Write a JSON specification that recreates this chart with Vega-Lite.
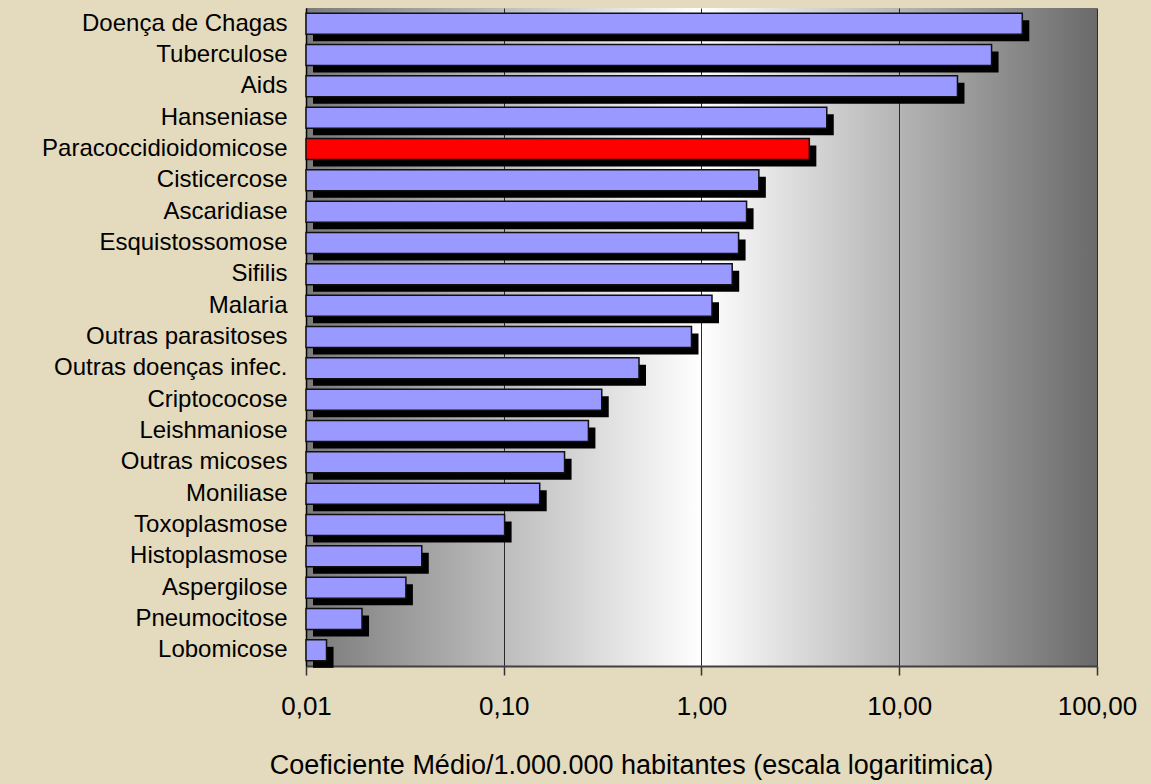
{
  "$schema": "https://vega.github.io/schema/vega-lite/v6.json",
  "width": 791,
  "height": 658,
  "autosize": "none",
  "padding": {"left": 306, "top": 8, "right": 54, "bottom": 118},
  "background": "#e4dabd",
  "config": {
    "locale": {
      "number": {"decimal": ",", "thousands": ".", "grouping": [3], "currency": ["R$", ""]}
    },
    "font": "Liberation Sans",
    "view": {
      "stroke": null,
      "fill": {
        "gradient": "linear",
        "x1": 0, "y1": 0, "x2": 1, "y2": 0,
        "stops": [
          {"offset": 0, "color": "#7a7a7a"},
          {"offset": 0.5, "color": "#ffffff"},
          {"offset": 1, "color": "#6a6a6a"}
        ]
      }
    }
  },
  "data": {
    "values": [
      {"doenca": "Doença de Chagas", "coef": 41.9, "grupo": "outro"},
      {"doenca": "Tuberculose", "coef": 29.3, "grupo": "outro"},
      {"doenca": "Aids", "coef": 19.7, "grupo": "outro"},
      {"doenca": "Hanseniase", "coef": 4.3, "grupo": "outro"},
      {"doenca": "Paracoccidioidomicose", "coef": 3.51, "grupo": "destaque"},
      {"doenca": "Cisticercose", "coef": 1.95, "grupo": "outro"},
      {"doenca": "Ascaridiase", "coef": 1.69, "grupo": "outro"},
      {"doenca": "Esquistossomose", "coef": 1.54, "grupo": "outro"},
      {"doenca": "Sifilis", "coef": 1.43, "grupo": "outro"},
      {"doenca": "Malaria", "coef": 1.13, "grupo": "outro"},
      {"doenca": "Outras parasitoses", "coef": 0.89, "grupo": "outro"},
      {"doenca": "Outras doenças infec.", "coef": 0.483, "grupo": "outro"},
      {"doenca": "Criptococose", "coef": 0.313, "grupo": "outro"},
      {"doenca": "Leishmaniose", "coef": 0.268, "grupo": "outro"},
      {"doenca": "Outras micoses", "coef": 0.203, "grupo": "outro"},
      {"doenca": "Moniliase", "coef": 0.152, "grupo": "outro"},
      {"doenca": "Toxoplasmose", "coef": 0.101, "grupo": "outro"},
      {"doenca": "Histoplasmose", "coef": 0.0385, "grupo": "outro"},
      {"doenca": "Aspergilose", "coef": 0.032, "grupo": "outro"},
      {"doenca": "Pneumocitose", "coef": 0.0192, "grupo": "outro"},
      {"doenca": "Lobomicose", "coef": 0.0127, "grupo": "outro"}
    ]
  },
  "encoding": {
    "y": {
      "field": "doenca",
      "type": "nominal",
      "sort": null,
      "scale": {"paddingInner": 0.33, "paddingOuter": 0.165},
      "axis": {
        "title": null,
        "ticks": false,
        "labelFontSize": 24,
        "labelColor": "#000",
        "labelPadding": 19,
        "labelLimit": 400,
        "domainColor": "#000",
        "domainWidth": 1.5
      }
    },
    "x": {
      "field": "coef",
      "type": "quantitative",
      "scale": {"type": "log", "domain": [0.01, 100], "nice": false},
      "axis": {
        "title": "Coeficiente Médio/1.000.000 habitantes (escala logaritimica)",
        "values": [0.01, 0.1, 1, 10, 100],
        "format": ".2f",
        "grid": true,
        "gridColor": "#2a2a2a",
        "gridWidth": 1,
        "domainColor": "#404040",
        "domainWidth": 2,
        "tickColor": "#333",
        "tickSize": 9,
        "tickWidth": 1.5,
        "labelFontSize": 26,
        "labelColor": "#000",
        "labelBaseline": "alphabetic",
        "labelPadding": 39,
        "labelFlush": false,
        "titleFontSize": 27,
        "titleFontWeight": "normal",
        "titleColor": "#000",
        "titleBaseline": "alphabetic",
        "titleAlign": "center",
        "titleAnchor": null,
        "titleX": 325,
        "titleY": 107
      }
    },
    "x2": {"datum": 0.01}
  },
  "layer": [
    {
      "mark": {"type": "bar", "color": "#000000", "xOffset": 7, "x2Offset": 7, "yOffset": 7}
    },
    {
      "mark": {"type": "bar", "stroke": "#111111", "strokeWidth": 1.5},
      "encoding": {
        "color": {
          "field": "grupo",
          "type": "nominal",
          "scale": {"domain": ["outro", "destaque"], "range": ["#9999FF", "#FF0000"]},
          "legend": null
        }
      }
    }
  ]
}
